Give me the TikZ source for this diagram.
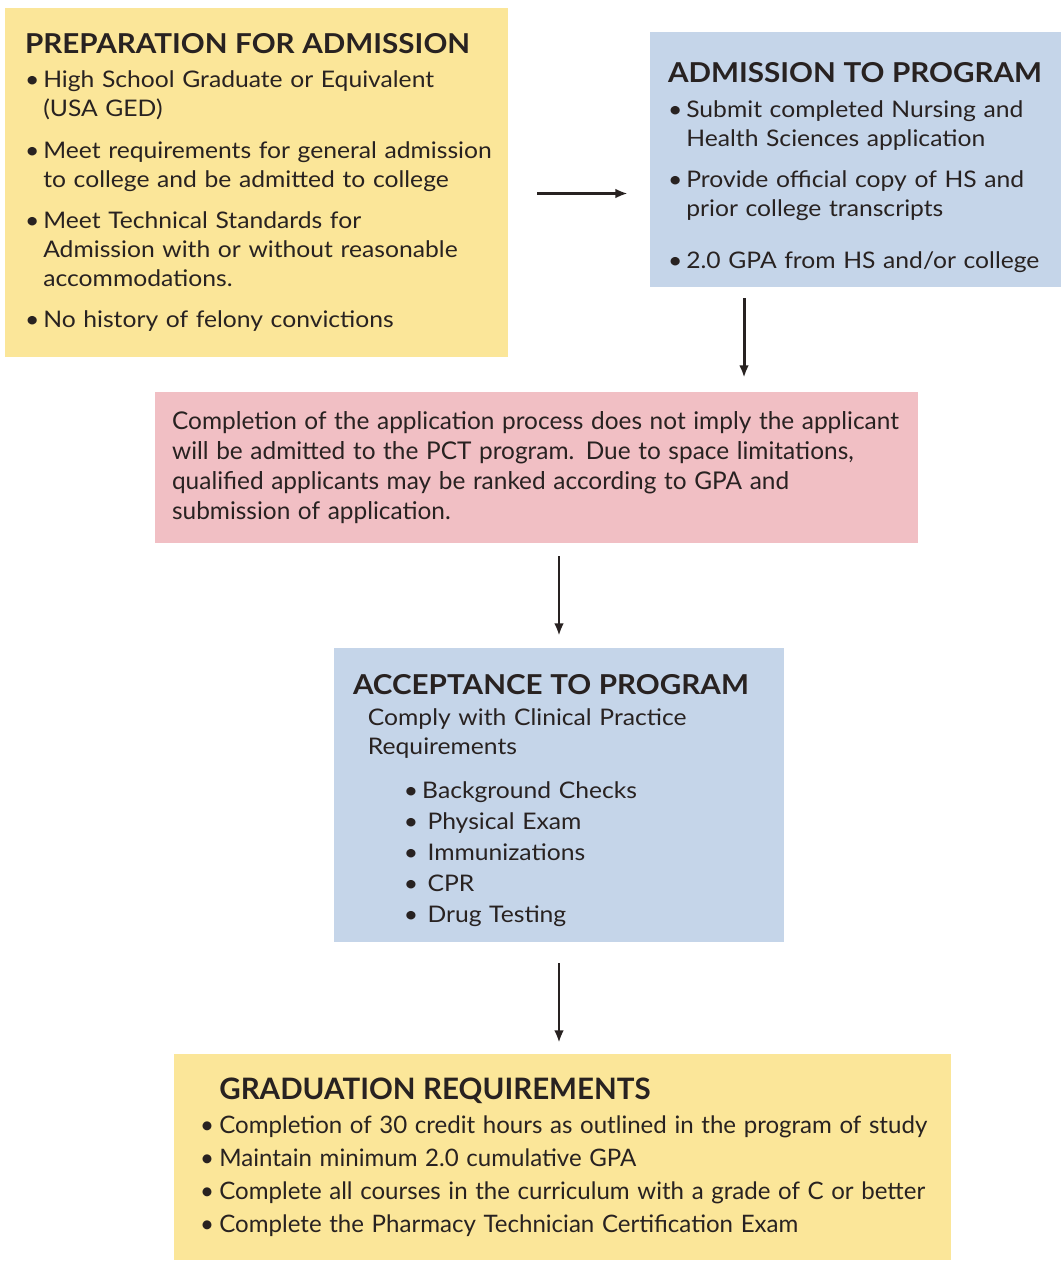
\documentclass[tikz,border=0pt]{standalone}
\usepackage{fontspec}
\setmainfont[FakeStretch=1.08]{Lato}
\newfontfamily\narrowfont{Lato}
\usetikzlibrary{arrows,arrows.meta,calc}
\tikzset{>={Latex[length=7pt,width=5.5pt]}}
\definecolor{boxyellow}{RGB}{251,230,153}
\definecolor{boxblue}{RGB}{197,213,233}
\definecolor{boxpink}{RGB}{241,191,196}
\definecolor{ink}{RGB}{40,34,33}
\tikzstyle{stage}=[rectangle,inner ysep=0pt,text=ink,align=left,font=\fontsize{13}{16.5}\selectfont]
\tikzstyle{yellowbox}=[stage,fill=boxyellow]
\tikzstyle{bluebox}=[stage,fill=boxblue]
\tikzstyle{pinkbox}=[stage,fill=boxpink]
\tikzstyle{flow}=[->,draw=ink,line width=1.7pt]
\newcommand{\heading}[1]{{\fontsize{15.6}{18}\selectfont\bfseries #1}\par\vskip 3pt}
\newcommand{\bitem}[1]{\par\vskip 7pt\hangindent=0.8em\hangafter=1\noindent\makebox[0.8em][l]{\textbullet}#1}
\newcommand{\litem}[1]{\par\hangindent=0.8em\hangafter=1\noindent\makebox[0.8em][l]{\textbullet}#1}

\begin{document}
\begin{tikzpicture}[x=0.02cm,y=-0.02cm]
	\useasboundingbox (0,0) rectangle (1061,1262);

	\node[yellowbox, minimum width=10.06cm, minimum height=6.98cm, inner xsep=0.2cm, text width=9.66cm] (prep) at (256.5,182.5) {
		\leftskip=0.2cm
		\heading{PREPARATION FOR ADMISSION}
		\litem{High School Graduate or Equivalent\newline(USA GED)}
		\bitem{Meet requirements for general admission\newline to college and be admitted to college}
		\bitem{Meet Technical Standards for\newline Admission with or without reasonable\newline accommodations.}
		\bitem{No history of felony convictions}\par
	};

	\node[bluebox, minimum width=8.22cm, minimum height=5.1cm, inner xsep=0.36cm, text width=7.5cm] (adm) at (855.5,159.5) {
		\vskip 4pt
		\heading{ADMISSION TO PROGRAM}
		\litem{Submit completed Nursing and\newline Health Sciences application}
		\bitem{Provide official copy of HS and\newline prior college transcripts}
		\vskip 6pt
		\bitem{2.0 GPA from HS and/or college}\par
	};

	\node[pinkbox, minimum width=15.26cm, minimum height=3.02cm, inner xsep=0.34cm, text width=14.58cm] (pink) at (536.5,467.5) {
		\narrowfont\fontsize{13.9}{17}\selectfont
		Completion of the application process does not imply the applicant\newline
		will be admitted to the PCT program. Due to space limitations,\newline
		qualified applicants may be ranked according to GPA and\newline
		submission of application.\par
	};

	\node[bluebox, minimum width=9cm, minimum height=5.88cm, inner xsep=0.38cm, text width=8.24cm] (acc) at (559,795) {
		\vskip 1.5pt
		\heading{ACCEPTANCE TO PROGRAM}
		\vskip -2.3pt
		\leftskip=8.5pt Comply with Clinical Practice\newline Requirements\par
		\vskip 8pt
		\leftskip=29pt \baselineskip=17.6pt
		\litem{Background Checks}
		\litem{\hspace{3pt}Physical Exam}
		\litem{\hspace{3pt}Immunizations}
		\litem{\hspace{3pt}CPR}
		\litem{\hspace{3pt}Drug Testing}\par
	};

	\node[yellowbox, minimum width=15.54cm, minimum height=4.12cm, inner xsep=0.3cm, text width=14.94cm] (grad) at (562.5,1157) {
		\narrowfont\fontsize{13.7}{18.7}\selectfont
		\leftskip=0.22cm
		{\hskip 0.8em\fontsize{16.8}{19}\selectfont\bfseries GRADUATION REQUIREMENTS}\par
		\vskip 1pt
		\litem{Completion of 30 credit hours as outlined in the program of study}
		\litem{Maintain minimum 2.0 cumulative GPA}
		\litem{Complete all courses in the curriculum with a grade of C or better}
		\litem{Complete the Pharmacy Technician Certification Exam}\par
	};

	\draw[flow, shorten <=0.58cm, shorten >=0.44cm] ([yshift=-0.22cm]prep.east) -- ([yshift=-0.22cm]prep.east -| adm.west);
	\draw[flow, shorten <=0.22cm, shorten >=0.28cm] ([xshift=-2.23cm]adm.south) -- ([xshift=-2.23cm]adm.south |- pink.north);
	\draw[flow, shorten <=0.26cm, shorten >=0.24cm] (pink.south -| acc.north) -- (acc.north);
	\draw[flow, shorten <=0.42cm, shorten >=0.22cm] (acc.south) -- (acc.south |- grad.north);
\end{tikzpicture}
\end{document}
